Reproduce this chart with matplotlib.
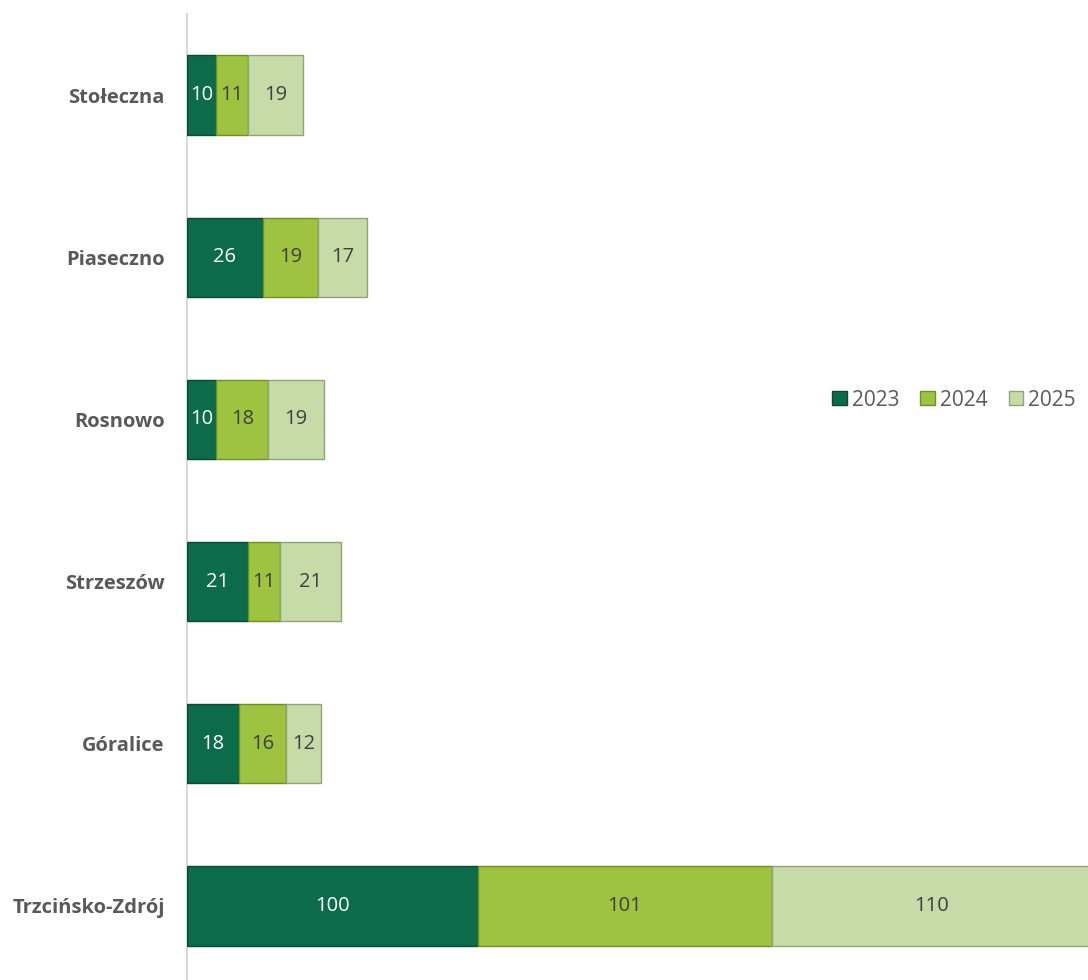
import matplotlib
matplotlib.use("Agg")
import matplotlib.pyplot as plt
import numpy as np

categories = ["Stołeczna", "Piaseczno", "Rosnowo", "Strzeszów", "Góralice", "Trzcińsko-Zdrój"]
series_names = ["2023", "2024", "2025"]
v2023 = [10, 26, 10, 21, 18, 100]
v2024 = [11, 19, 18, 11, 16, 101]
v2025 = [19, 17, 19, 21, 12, 110]

colors = ["#0B6B4A", "#9DC340", "#C6DBA8"]
edges = ["#064A33", "#6E8F25", "#8FA578"]
text_colors = ["white", "#404040", "#404040"]

plt.rcParams['font.family'] = ['Open Sans', 'DejaVu Sans']

W, H = 1088, 980
fig = plt.figure(figsize=(W/100, H/100), dpi=100)
left = 187 / W
top_px, bot_px = 14, 987
ax = fig.add_axes([left, 1 - bot_px / H, 1 - left, (bot_px - top_px) / H])

n = len(categories)
y = np.arange(n)[::-1]
data = [v2023, v2024, v2025]
lefts = np.zeros(n)
bars = []
for i, (vals, name) in enumerate(zip(data, series_names)):
    b = ax.barh(y, vals, left=lefts, height=0.49, color=colors[i], edgecolor=edges[i],
                linewidth=1.0, label=name, zorder=3)
    for yy, l, v in zip(y, lefts, vals):
        ax.text(l + v / 2, yy, str(v), ha='center', va='center', fontsize=14.5,
                color=text_colors[i], zorder=4)
    lefts = lefts + np.array(vals)
    bars.append(b)

ax.set_xlim(0, (W - 187) / 2.91)
ax.set_ylim(-0.5, n - 0.5)
ax.set_yticks(y)
ax.set_yticklabels(categories, fontsize=14.5, fontweight='bold', color='#595959')
ax.tick_params(axis='y', length=0, pad=16)
ax.set_xticks([])
for s in ['top', 'right', 'bottom']:
    ax.spines[s].set_visible(False)
ax.spines['left'].set_color('#D9D9D9')
ax.spines['left'].set_linewidth(1.5)

leg = fig.legend(handles=bars, labels=series_names, loc='center',
                 bbox_to_anchor=(0.877, 1 - 400 / H), ncol=3, frameon=False,
                 fontsize=15, handlelength=0.7, handleheight=0.7,
                 handletextpad=0.25, columnspacing=1.0)
for t in leg.get_texts():
    t.set_color('#595959')

fig.savefig("out.png", dpi=100)
